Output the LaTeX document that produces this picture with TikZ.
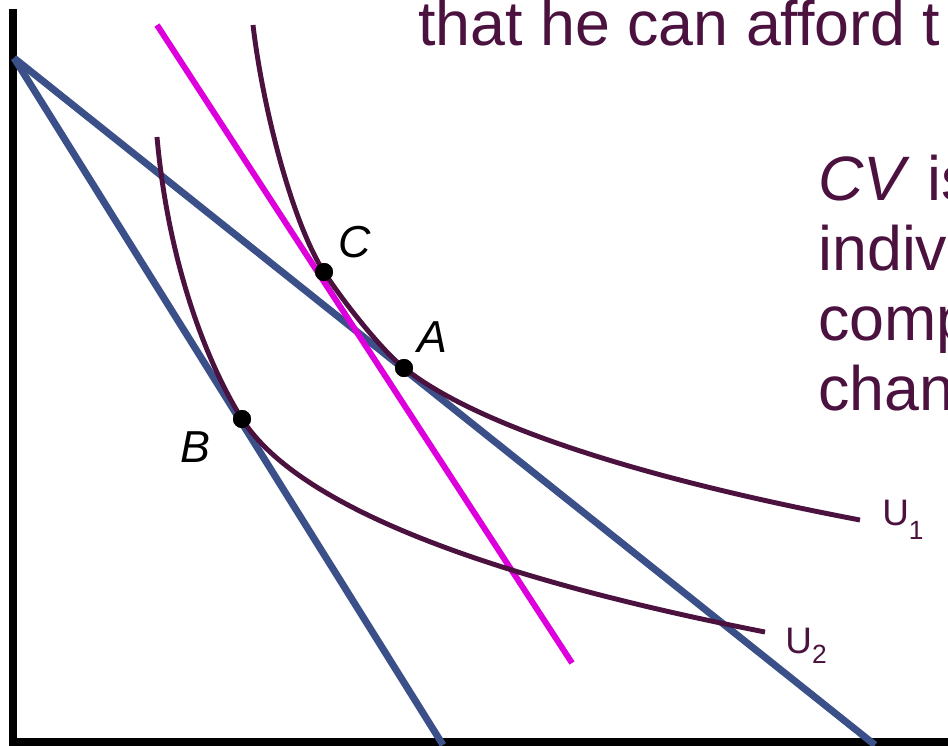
\documentclass[tikz,border=0pt]{standalone}
\usepackage{fontspec}
\setmainfont{Liberation Sans}
\setsansfont{Liberation Sans}
\usepackage{xcolor}
\definecolor{plumText}{HTML}{4B1240}
\definecolor{budgetBlue}{HTML}{3B5089}
\definecolor{compMagenta}{HTML}{DD00DD}
\usepackage{tikz}
\usetikzlibrary{calc}
\tikzset{
    % Axes - thick black
    axis line/.style={
        line width=4pt,
        draw=black,
    },
    % Budget lines - dark blue
    budget/.style={
        line width=4pt,
        draw=budgetBlue,
    },
    % Compensated budget line - magenta
    comp budget/.style={
        line width=3.4pt,
        draw=compMagenta,
    },
    % Indifference curves
    indiff/.style={
        line width=2.8pt,
        draw=plumText,
    },
    % Bundles on the curves
    bundle/.style={
        circle,
        fill=black,
        inner sep=0pt,
        minimum size=0.36cm,
    },
    % Point labels
    bundle label/.style={
        font=\fontsize{25.5}{28}\selectfont\itshape,
        text=black,
        inner sep=0pt,
        anchor=base west,
    },
    % Curve labels
    curve label/.style={
        font=\fontsize{21}{24}\selectfont,
        text=plumText,
        inner sep=0pt,
        anchor=base west,
    },
    % Slide text
    slide text/.style={
        font=\fontsize{35.7}{39.7}\selectfont,
        text=plumText,
        inner sep=0pt,
        align=left,
    },
}

\begin{document}
\begin{tikzpicture}[x=0.02cm, y=-0.02cm]
    \clip (0,0) rectangle (948,745);

    % axes
    \coordinate (ytop) at (13,9);
    \coordinate (orig) at (13,742);
    \coordinate (xend) at (960,742);
    \draw [axis line] (ytop) -- (orig) -- (xend);

    % budget lines
    \coordinate (inter) at (14,58);
    \coordinate (xlow) at (443,745);
    \coordinate (xhigh) at (875,745);
    \draw [budget] (inter) -- (xlow);
    \draw [budget] (inter) -- (xhigh);

    % compensated budget line
    \coordinate (mtop) at (157,25);
    \coordinate (mbot) at (572,663);
    \draw [comp budget] (mtop) -- (mbot);

    % bundles
    \node (C) [bundle] at (324,272) {};
    \node (A) [bundle] at (404,368) {};
    \node (B) [bundle] at (242,419) {};

    % indifference curves
    \coordinate (u1top) at (253,25);
    \coordinate (u1end) at (860,520);
    \coordinate (u2top) at (157,137);
    \coordinate (u2end) at (765,632);
    \draw [indiff] (u1top) .. controls (263,110) and (293,224) .. (C.center)
        .. controls (345,304) and (382,350.5) .. (A.center)
        .. controls (480,428) and (650,480) .. (u1end);
    \draw [indiff] (u2top) .. controls (168,260) and (205,360) .. (B.center)
        .. controls (300,510) and (500,580) .. (u2end);

    % redraw dots on top
    \fill (C) circle (9);
    \fill (A) circle (9);
    \fill (B) circle (9);

    % labels
    \node (labC) [bundle label] at (338,257) {C};
    \node (labA) [bundle label] at (417,352) {A};
    \node (labB) [bundle label] at (180,462) {B};
    \node (labU1) [curve label] at (882,525) {U\raisebox{-8pt}{\fontsize{15}{15}\selectfont 1}};
    \node (labU2) [curve label] at (785,653) {U\raisebox{-6pt}{\fontsize{15}{15}\selectfont 2}};

    % slide text (cut at the right edge)
    \node (topline) [slide text, anchor=base west] at (418,45) {that he can afford t};
    \node (cvtext) [slide text, anchor=north west] at (818,155)
        {\textit{CV} is\\indiv\\comp\\chan};
\end{tikzpicture}
\end{document}
